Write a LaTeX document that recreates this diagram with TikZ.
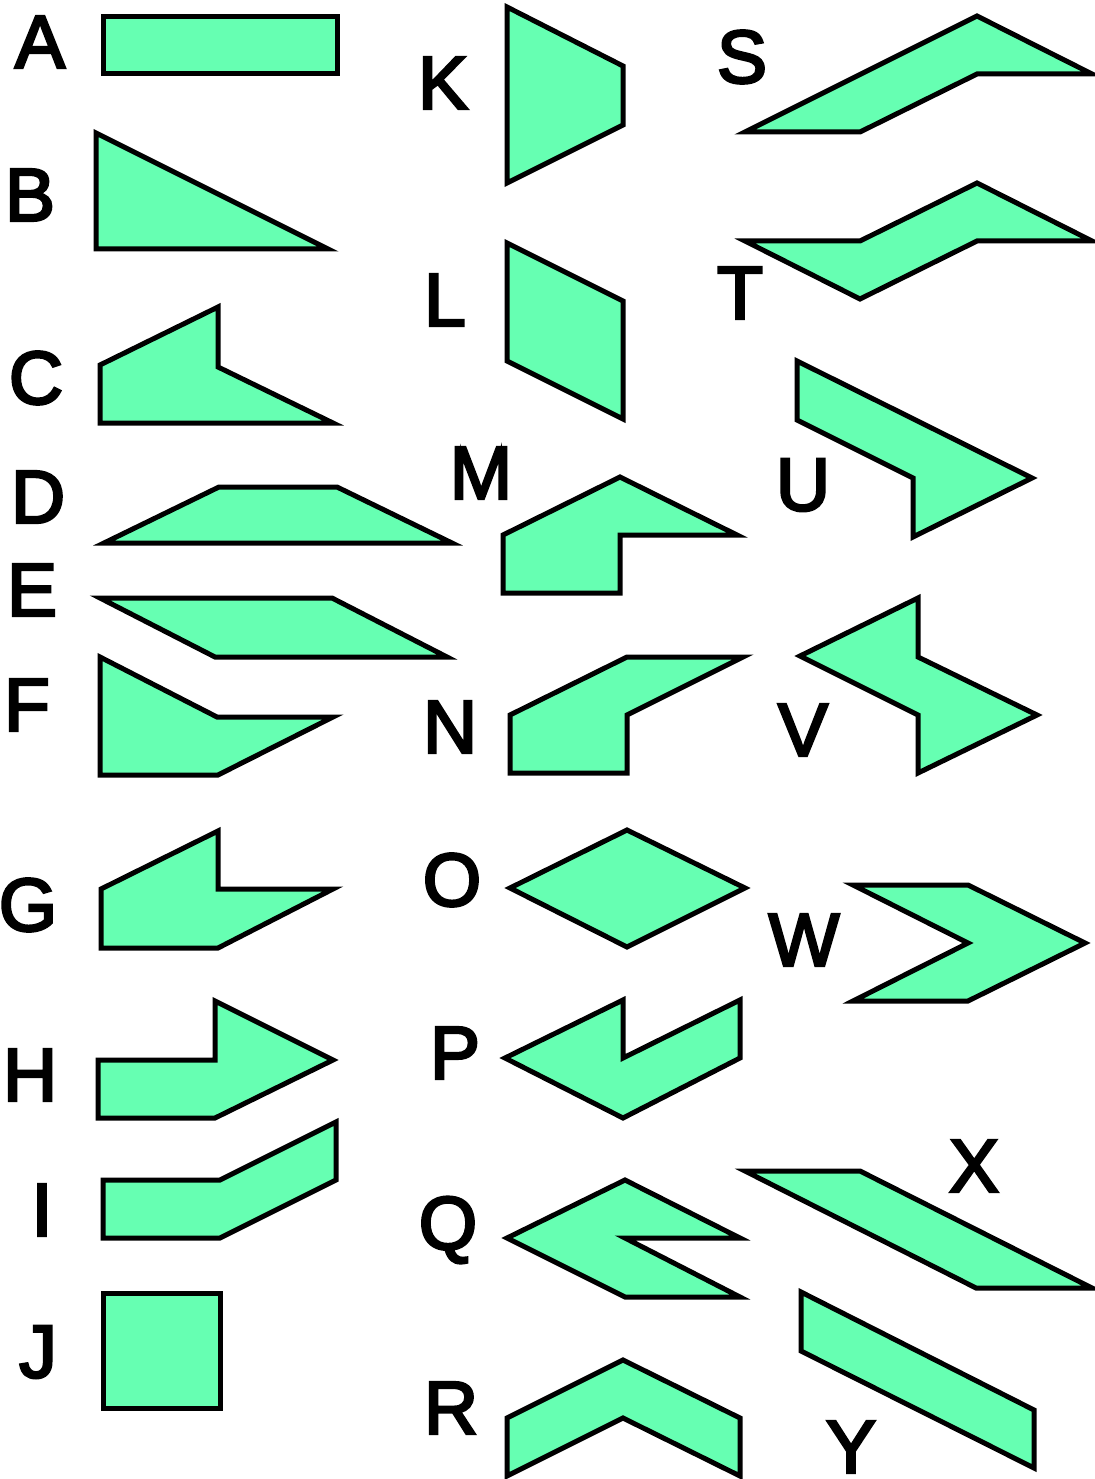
\documentclass[tikz,border=0pt]{standalone}
\usepackage{fontspec}
\newfontface\lab{Liberation Sans}[FakeBold=3.5]
\definecolor{shapefill}{RGB}{102,255,178}
\begin{document}
\begin{tikzpicture}[x=1pt,y=-1pt,
  piece/.style={draw=black,fill=shapefill,line width=5pt,line join=miter},
  letter/.style={font=\lab\fontsize{75}{75}\selectfont,text=black,inner sep=0pt,anchor=center}]
\useasboundingbox (0,0) rectangle (1094,1479);
% column 1
\draw[piece] (103,17) rectangle (337,74);
\draw[piece] (96,133) -- (96,249) -- (328,249) -- cycle;
\draw[piece] (100,365) -- (218,307) -- (218,367) -- (333,423) -- (100,423) -- cycle;
\draw[piece] (104,543) -- (219,487) -- (337,487) -- (452,543) -- cycle;
\draw[piece] (100,598) -- (332,598) -- (447,657) -- (215,657) -- cycle;
\draw[piece] (100,657) -- (217,717) -- (333,717) -- (218,775) -- (100,775) -- cycle;
\draw[piece] (101,889) -- (218,831) -- (218,889) -- (333,889) -- (218,948) -- (101,948) -- cycle;
\draw[piece] (98,1060) -- (215,1060) -- (215,1001) -- (333,1060) -- (215,1118) -- (98,1118) -- cycle;
\draw[piece] (103,1180) -- (220,1180) -- (336,1122) -- (336,1180) -- (220,1238) -- (103,1238) -- cycle;
\draw[piece] (103,1293) rectangle (220,1408);
% column 2
\draw[piece] (507,7) -- (623,66) -- (623,125) -- (507,183) -- cycle;
\draw[piece] (507,243) -- (623,301) -- (623,419) -- (507,361) -- cycle;
\draw[piece] (503,535) -- (620,477) -- (737,535) -- (620,535) -- (620,593) -- (503,593) -- cycle;
\draw[piece] (510,715) -- (627,657) -- (743,657) -- (627,715) -- (627,773) -- (510,773) -- cycle;
\draw[piece] (510,888) -- (627,830) -- (745,888) -- (627,947) -- cycle;
\draw[piece] (505,1058) -- (623,1000) -- (623,1058) -- (740,1000) -- (740,1058) -- (623,1118) -- cycle;
\draw[piece] (507,1238) -- (625,1180) -- (740,1238) -- (625,1238) -- (740,1297) -- (625,1297) -- cycle;
\draw[piece] (507,1418) -- (623,1360) -- (740,1418) -- (740,1476) -- (623,1418) -- (507,1476) -- cycle;
% column 3
\draw[piece] (745,132) -- (977,16) -- (1092,74) -- (977,74) -- (860,132) -- cycle;
\draw[piece] (745,241) -- (860,241) -- (977,183) -- (1092,241) -- (977,241) -- (860,299) -- cycle;
\draw[piece] (797,361) -- (1032,478) -- (913,537) -- (913,478) -- (797,420) -- cycle;
\draw[piece] (800,656) -- (918,598) -- (918,657) -- (1037,715) -- (918,773) -- (918,715) -- cycle;
\draw[piece] (853,885) -- (968,885) -- (1085,943) -- (968,1001) -- (853,1001) -- (968,943) -- cycle;
\draw[piece] (745,1171) -- (860,1171) -- (1092,1288) -- (976,1288) -- cycle;
\draw[piece] (801,1292) -- (1034,1410) -- (1034,1468) -- (801,1351) -- cycle;
% letters
\node[letter] (lA) at (40,42) {A};
\node[letter] (lB) at (30,195) {B};
\node[letter] (lC) at (36,378) {C};
\node[letter] (lD) at (38,497) {D};
\node[letter] (lE) at (32,590) {E};
\node[letter] (lF) at (27,705) {F};
\node[letter] (lG) at (28,905) {G};
\node[letter] (lH) at (30,1075) {H};
\node[letter] (lI) at (42,1210) {I};
\node[letter] (lJ) at (38,1352) {J};
\node[letter] (lK) at (443,83) {K};
\node[letter] (lL) at (445,300) {L};
\node[letter] (lM) at (481,473) {M};
\node[letter] (lN) at (450,727) {N};
\node[letter] (lO) at (452,880) {O};
\node[letter] (lP) at (455,1053) {P};
\node[letter] (lQ) at (448,1230) {Q};
\node[letter] (lR) at (451,1408) {R};
\node[letter] (lS) at (742,57) {S};
\node[letter] (lT) at (740,293) {T};
\node[letter] (lU) at (803,485) {U};
\node[letter] (lV) at (803,730) {V};
\node[letter] (lW) at (804,940) {W};
\node[letter] (lX) at (974,1166) {X};
\node[letter] (lY) at (851,1447) {Y};
\end{tikzpicture}
\end{document}
